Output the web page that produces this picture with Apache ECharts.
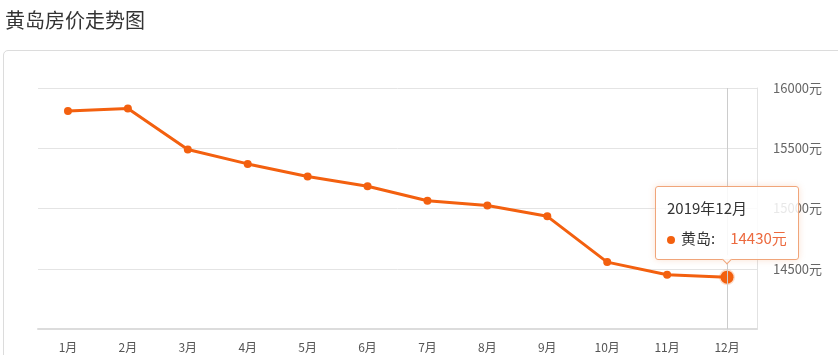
<!DOCTYPE html>
<html>
<head>
<meta charset="utf-8">
<script src="https://cdn.jsdelivr.net/npm/echarts@6/dist/echarts.min.js"></script>
<style>
  html, body { margin: 0; padding: 0; background: #fff; overflow: hidden; }
  #card { position: absolute; left: 3px; top: 50px; width: 900px; height: 400px;
          border: 1px solid #dcdcdc; border-radius: 5px; box-sizing: border-box; }
  #chart { position: absolute; left: 0; top: 0; width: 838px; height: 355px; }
</style>
</head>
<body>
<div id="card"></div>
<div id="chart"></div>
<script>
const months = ["1月", "2月", "3月", "4月", "5月", "6月", "7月", "8月", "9月", "10月", "11月", "12月"];
const prices = [15810, 15830, 15490, 15370, 15265, 15185, 15065, 15025, 14935, 14555, 14450, 14430];
const yMin = 14000;
const yMax = 16000;
const yStep = 500;
const tipMonth = "2019年12月";
const seriesName = "黄岛";

const orange = "#f3600f";
const font = "Noto Sans CJK SC";
const chart = echarts.init(document.getElementById("chart"));
const last = prices.length - 1;

chart.setOption({
  animation: false,
  backgroundColor: "transparent",
  title: {
    text: "黄岛房价走势图", left: 0, top: 5,
    textStyle: { fontSize: 20, fontWeight: "normal", color: "#333", fontFamily: font },
  },
  grid: { left: 38, right: 81, top: 88, bottom: 26 },
  tooltip: {
    trigger: "item",
    position: "top",
    alwaysShowContent: true,
    backgroundColor: "rgba(255,255,255,0.85)",
    borderColor: "#f0a57a",
    borderWidth: 1,
    padding: [6, 11, 6, 11],
    extraCssText: "margin-top:1px;box-shadow:0 0 6px rgba(240,140,80,0.25);border-radius:3px;",
    textStyle: { color: "#333", fontSize: 15, fontFamily: font },
    formatter: (p) => {
      const dot = `<span style="display:inline-block;width:8px;height:8px;border-radius:50%;background:${orange};margin-right:6px;vertical-align:middle"></span>`;
      return `<div style="line-height:30px">${tipMonth}<br/>${dot}${seriesName}:<span style="color:#ec6a3f;margin-left:15px">${p.value}元</span></div>`;
    },
  },
  xAxis: {
    type: "category",
    data: months,
    boundaryGap: true,
    axisLine: { lineStyle: { color: "#dcdcdc", width: 2 } },
    axisTick: { alignWithLabel: true, length: 4, lineStyle: { color: "#ddd" } },
    axisLabel: { color: "#555", fontSize: 12, margin: 12, fontFamily: font },
    axisPointer: {
      show: true, type: "line", value: last, status: "show", triggerTooltip: false,
      label: { show: false },
      lineStyle: { color: "#ccc", width: 1, type: "solid" },
    },
  },
  yAxis: {
    type: "value",
    position: "right",
    min: yMin, max: yMax, interval: yStep,
    axisLine: { show: true, lineStyle: { color: "#e2e2e2" } },
    axisTick: { show: false },
    axisLabel: {
      color: "#666", fontSize: 13, margin: 16, showMinLabel: false, fontFamily: font,
      formatter: (v) => v + "元",
    },
    splitLine: { lineStyle: { color: "#e4e4e4" } },
  },
  series: [{
    name: seriesName,
    type: "line",
    data: prices.map((v, i) => i === last
      ? { value: v, symbolSize: 13, itemStyle: { borderColor: "rgba(243,96,15,0.22)", borderWidth: 3 } }
      : v),
    symbol: "circle",
    symbolSize: 8,
    itemStyle: { color: orange },
    lineStyle: { color: orange, width: 3 },
    emphasis: { disabled: true },
  }],
});

chart.dispatchAction({ type: "showTip", seriesIndex: 0, dataIndex: last });
</script>
</body>
</html>
